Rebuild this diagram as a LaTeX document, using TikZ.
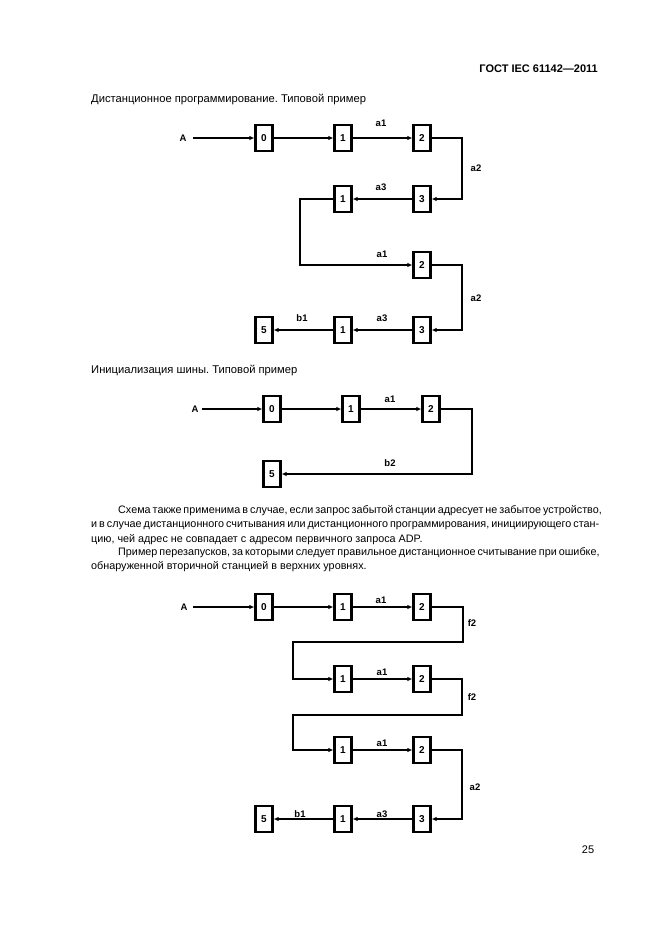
\documentclass[tikz,border=0pt]{standalone}
\usepackage{fontspec}
\setmainfont{Liberation Sans}
\usetikzlibrary{arrows.meta}
\frenchspacing
\tikzset{
  stbox/.style={draw, line width=2.2pt, minimum width=17pt, minimum height=26pt, inner sep=0pt, font=\bfseries\fontsize{10}{10}\selectfont},
  lab/.style={font=\bfseries\fontsize{9.5}{10}\selectfont, inner sep=0pt},
  conn/.style={line width=2.2pt},
  arr/.style={conn, -{Latex[length=5pt,width=4.5pt]}},
  body/.style={font=\fontsize{10.8}{13}\selectfont, inner sep=0pt, anchor=west},
  ttl/.style={font=\fontsize{11.2}{13}\selectfont, inner sep=0pt, anchor=west},
}
\begin{document}
\begin{tikzpicture}[x=1pt,y=-1pt]
\useasboundingbox (0,0) rectangle (661,935);
% header
\node[font=\bfseries\fontsize{11}{13}\selectfont, inner sep=0pt, anchor=east] (hdr) at (598,69) {ГОСТ IEC 61142—2011};
% ---------- diagram 1 ----------
\node[ttl] (t1) at (91,100) {Дистанционное программирование. Типовой пример};
\node[lab] (d1A) at (183,138) {A};
\node[stbox] (d1b0) at (264,138) {0};
\node[stbox] (d1b1) at (343,138) {1};
\node[stbox] (d1b2) at (422,138) {2};
\node[stbox] (d1b3) at (422,199) {3};
\node[stbox] (d1c1) at (343,199) {1};
\node[stbox] (d1c2) at (422,265) {2};
\node[stbox] (d1d3) at (422,330) {3};
\node[stbox] (d1d1) at (343,330) {1};
\node[stbox] (d1d5) at (264,330) {5};
\coordinate (d1As) at (193,138);
\coordinate (d1r1) at (462,199);
\coordinate (d1l1) at (300,265);
\coordinate (d1r2) at (462,330);
\draw[arr] (d1As) -- (d1b0.west);
\draw[arr] (d1b0) -- (d1b1);
\draw[arr] (d1b1) -- (d1b2);
\draw[arr] (d1b2.east) -| (d1r1) -- (d1b3.east);
\draw[arr] (d1b3) -- (d1c1);
\draw[arr] (d1c1.west) -| (d1l1) -- (d1c2.west);
\draw[arr] (d1c2.east) -| (d1r2) -- (d1d3.east);
\draw[arr] (d1d3) -- (d1d1);
\draw[arr] (d1d1) -- (d1d5);
\node[lab] (d1la1) at (381,123) {a1};
\node[lab] (d1la2) at (476,168) {a2};
\node[lab] (d1la3) at (381,187) {a3};
\node[lab] (d1lb) at (382,254) {a1};
\node[lab] (d1lc) at (476,298) {a2};
\node[lab] (d1lb1) at (302,318) {b1};
\node[lab] (d1ld) at (382,318) {a3};
% ---------- diagram 2 ----------
\node[ttl] (t2) at (91,370) {Инициализация шины. Типовой пример};
\node[lab] (d2A) at (195,409) {A};
\node[stbox] (d2b0) at (272,409) {0};
\node[stbox] (d2b1) at (351,409) {1};
\node[stbox] (d2b2) at (431,409) {2};
\node[stbox] (d2b5) at (272,474) {5};
\coordinate (d2As) at (202,409);
\coordinate (d2r) at (472,474);
\draw[arr] (d2As) -- (d2b0.west);
\draw[arr] (d2b0) -- (d2b1);
\draw[arr] (d2b1) -- (d2b2);
\draw[arr] (d2b2.east) -| (d2r) -- (d2b5.east);
\node[lab] (d2la1) at (390,399) {a1};
\node[lab] (d2lb2) at (390,463) {b2};
% ---------- paragraph ----------
\node[body] (p1) at (118,511) {\makebox[479pt][s]{Схема также применима в случае, если запрос забытой станции адресует не забытое устройство,}};
\node[body] (p2) at (91,526) {\makebox[508pt][s]{и в случае дистанционного считывания или дистанционного программирования, инициирующего стан-}};
\node[body] (p3) at (91,540) {цию, чей адрес не совпадает с адресом первичного запроса ADP.};
\node[body] (p4) at (118,553) {\makebox[478pt][s]{Пример перезапусков, за которыми следует правильное дистанционное считывание при ошибке,}};
\node[body] (p5) at (91,567) {обнаруженной вторичной станцией в верхних уровнях.};
% ---------- diagram 3 ----------
\node[lab] (d3A) at (184,607) {A};
\node[stbox] (d3b0) at (264,607) {0};
\node[stbox] (d3b1) at (343,607) {1};
\node[stbox] (d3b2) at (422,607) {2};
\node[stbox] (d3c1) at (343,679) {1};
\node[stbox] (d3c2) at (422,679) {2};
\node[stbox] (d3e1) at (343,750) {1};
\node[stbox] (d3e2) at (422,750) {2};
\node[stbox] (d3f3) at (422,819) {3};
\node[stbox] (d3f1) at (343,819) {1};
\node[stbox] (d3f5) at (264,819) {5};
\coordinate (d3As) at (193,607);
\coordinate (d3r1) at (463,642);
\coordinate (d3l1) at (293,679);
\coordinate (d3r2) at (462,715);
\coordinate (d3l2) at (293,750);
\coordinate (d3r3) at (462,819);
\draw[arr] (d3As) -- (d3b0.west);
\draw[arr] (d3b0) -- (d3b1);
\draw[arr] (d3b1) -- (d3b2);
\draw[arr] (d3b2.east) -| (d3r1) -| (d3l1) -- (d3c1.west);
\draw[arr] (d3c1) -- (d3c2);
\draw[arr] (d3c2.east) -| (d3r2) -| (d3l2) -- (d3e1.west);
\draw[arr] (d3e1) -- (d3e2);
\draw[arr] (d3e2.east) -| (d3r3) -- (d3f3.east);
\draw[arr] (d3f3) -- (d3f1);
\draw[arr] (d3f1) -- (d3f5);
\node[lab] (d3la1) at (381,600) {a1};
\node[lab] (d3lf1) at (472,623) {f2};
\node[lab] (d3la2) at (382,672) {a1};
\node[lab] (d3lf2) at (472,697) {f2};
\node[lab] (d3la3) at (382,743) {a1};
\node[lab] (d3lc) at (475,787) {a2};
\node[lab] (d3lb1) at (300,814) {b1};
\node[lab] (d3ld) at (382,814) {a3};
% page number
\node[font=\fontsize{11}{13}\selectfont, inner sep=0pt] (pg) at (588,850) {25};
\end{tikzpicture}
\end{document}
